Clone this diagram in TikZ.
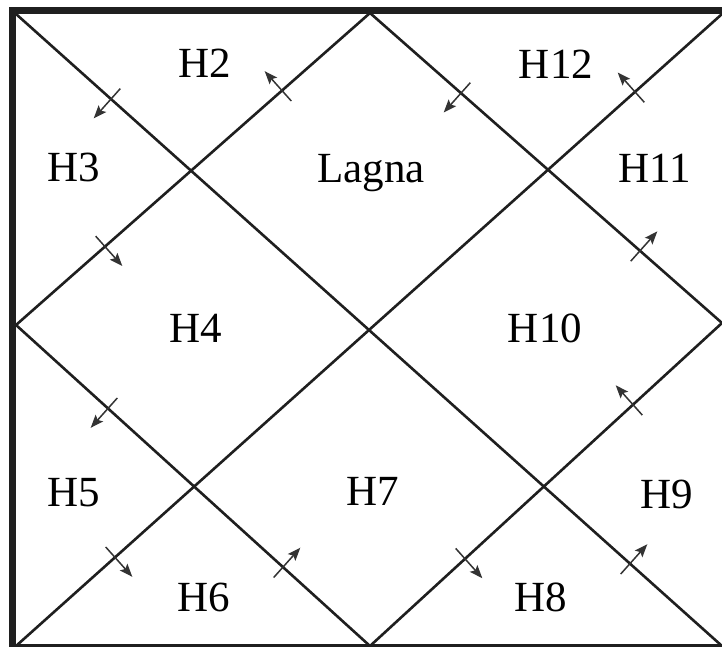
\documentclass[tikz,border=0pt]{standalone}
\usepackage{fontspec}
\setmainfont{Liberation Serif}
\usetikzlibrary{arrows.meta}
\begin{document}
\begin{tikzpicture}[x=1pt,y=-1pt,
  chartline/.style={line width=2.6pt,draw=black!88},
  frameline/.style={line width=7pt,draw=black!88},
  tickarrow/.style={line width=1.5pt,draw=black!80,-{Stealth[length=13pt,width=10pt,inset=2.5pt]}},
  house/.style={inner sep=0pt,text height=28.5pt,text depth=0pt,font=\fontsize{43}{50}\selectfont}]
\useasboundingbox[fill=white] (0,0) rectangle (722,647);
% corners and mid points
\coordinate (TL) at (16,14);
\coordinate (TR) at (722,14);
\coordinate (BL) at (16,646);
\coordinate (BR) at (722,646);
\coordinate (TM) at (370,13);
\coordinate (LM) at (16,325);
\coordinate (RM) at (722,323);
\coordinate (BM) at (370,646);
% frame
\coordinate (F1) at (12.5,647);
\coordinate (F2) at (12.5,7);
\coordinate (F3) at (9,10.5);
\coordinate (F4) at (722,10.5);
\coordinate (F5) at (9,645.5);
\coordinate (F6) at (722,645.5);
\draw[frameline] (F1) -- (F2);
\draw[frameline] (F3) -- (F4);
\draw[line width=2.5pt,draw=black!88] (F5) -- (F6);
% diagonals and diamond
\draw[chartline] (TL) -- (BR);
\draw[chartline] (BL) -- (TR);
\draw[chartline] (LM) -- (TM) -- (RM) -- (BM) -- cycle;
% tick arrows
\coordinate (a1s) at (120.3,88.6);  \coordinate (a1e) at (93.7,118.4);
\coordinate (a2s) at (291.3,101);   \coordinate (a2e) at (264.7,71.2);
\coordinate (a3s) at (470.3,82.7);  \coordinate (a3e) at (443.7,112.5);
\coordinate (a4s) at (644.3,102.3); \coordinate (a4e) at (617.7,72.5);
\coordinate (a5s) at (95.7,236.2);  \coordinate (a5e) at (122.3,266);
\coordinate (a6s) at (630.7,261.2); \coordinate (a6e) at (657.3,231.4);
\coordinate (a7s) at (117.3,398);   \coordinate (a7e) at (90.7,427.8);
\coordinate (a8s) at (642.3,415.1); \coordinate (a8e) at (615.7,385.3);
\coordinate (a9s) at (105.7,547);   \coordinate (a9e) at (132.3,576.8);
\coordinate (a10s) at (273.7,577.5); \coordinate (a10e) at (300.3,547.7);
\coordinate (a11s) at (455.7,548.4); \coordinate (a11e) at (482.3,578.2);
\coordinate (a12s) at (620.7,574);  \coordinate (a12e) at (647.3,544.2);
\foreach \i in {1,...,12} {\draw[tickarrow] (a\i s) -- (a\i e);}
% house labels
\node[house] (h2) at (205,63) {H2};
\node[house] (h12) at (556,64) {H12};
\node[house] (h3) at (74,167) {H3};
\node[house] (h1) at (371,168) {Lagna};
\node[house] (h11) at (655,168) {H11};
\node[house] (h4) at (196,328) {H4};
\node[house] (h10) at (545,328) {H10};
\node[house] (h5) at (74,492) {H5};
\node[house] (h7) at (373,491) {H7};
\node[house] (h9) at (667,494) {H9};
\node[house] (h6) at (204,597) {H6};
\node[house] (h8) at (541,597) {H8};
\end{tikzpicture}
\end{document}
